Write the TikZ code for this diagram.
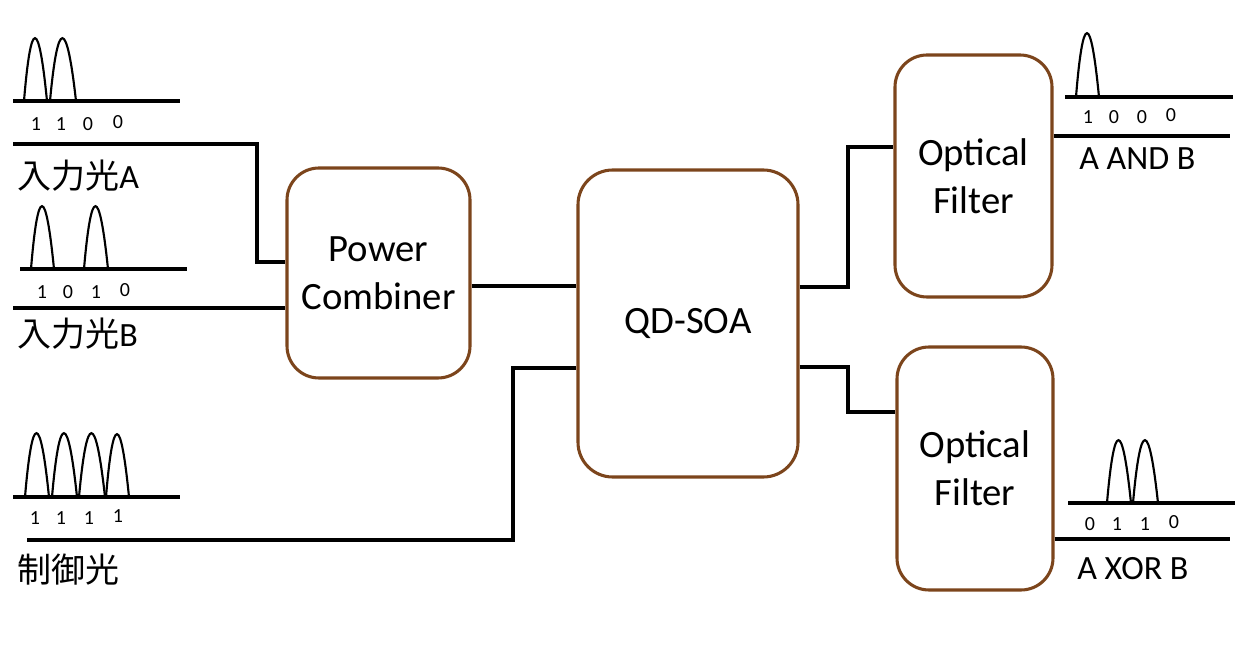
\documentclass[tikz,border=0pt]{standalone}
\usepackage{fontspec}
\setmainfont{Carlito}
\newfontfamily\cjk{Noto Sans CJK JP}
\definecolor{boxbrown}{RGB}{124,69,28}
\tikzset{
  blk/.style={draw=boxbrown, line width=2.3pt, rounded corners=24pt, fill=white,
    inner sep=0pt, align=center, font=\fontsize{29}{36}\selectfont},
  wire/.style={line width=2.5pt, black},
  pulseline/.style={line width=1.6pt, black},
  bit/.style={font=\fontsize{15}{17}\selectfont, inner sep=0pt},
  lbl/.style={font=\fontsize{25.5}{28}\selectfont, inner sep=0pt, anchor=base west},
}
\newcommand\pulsedraw[4]{% x-start, x-end, baseline, peak
  \draw[pulseline] (#1,#3) .. controls ({#1+(#2-#1)*0.30},{#3+(#4-#3)*1.33}) and ({#2-(#2-#1)*0.36},{#3+(#4-#3)*1.33}) .. (#2,#3);}
\begin{document}
\begin{tikzpicture}[x=0.75pt,y=-0.75pt]
\useasboundingbox (0,0) rectangle (1258,670);

% blocks
\node[blk, minimum width=183*0.75pt, minimum height=210*0.75pt] (pc) at (378.5,273) {Power\\Combiner};
\node[blk, minimum width=220*0.75pt, minimum height=307*0.75pt, rounded corners=26pt] (soa) at (688,323.5) {QD-SOA};
\node[blk, minimum width=157*0.75pt, minimum height=242*0.75pt] (f1) at (973.5,176) {Optical\\Filter};
\node[blk, minimum width=156*0.75pt, minimum height=243*0.75pt] (f2) at (975,468.5) {Optical\\Filter};

% free ends
\coordinate (inA) at (13,144);
\coordinate (inB) at (13,308);
\coordinate (inC) at (27,540);
\coordinate (outA) at (1230,136);
\coordinate (outX) at (1230,539);

% wires
\draw[wire] (inA) -- (257,144) -- (257,262) -- (257,262 -| pc.west);
\draw[wire] (inB) -- (inB -| pc.west);
\draw[wire] (inC) -- (513,540) -- (513,368) -- (513,368 -| soa.west);
\draw[wire] (pc.east |- 0,286) -- (soa.west |- 0,286);
\draw[wire] (soa.east |- 0,287) -- (848,287) -- (848,147) -- (848,147 -| f1.west);
\draw[wire] (soa.east |- 0,367) -- (848,367) -- (848,412) -- (848,412 -| f2.west);
\draw[wire] (f1.east |- outA) -- (outA);
\draw[wire] (f2.east |- outX) -- (outX);

% pulse trains: input A
\draw[wire] (13,101) -- (180,101);
\pulsedraw{24}{47}{101}{38}
\pulsedraw{50}{76}{101}{38}
\node[bit] at (36,124) {1};
\node[bit] at (61,124) {1};
\node[bit] at (88,124) {0};
\node[bit] at (118,122) {0};
\node[lbl] (lA) at (17,189) {{\cjk 入力光}A};

% input B
\draw[wire] (20,269) -- (187,269);
\pulsedraw{31}{54}{269}{206}
\pulsedraw{84}{108}{269}{206}
\node[bit] at (42,292) {1};
\node[bit] at (68,292) {0};
\node[bit] at (96,292) {1};
\node[bit] at (125,290) {0};
\node[lbl] (lB) at (17,347) {{\cjk 入力光}B};

% control
\draw[wire] (13,497) -- (180,497);
\pulsedraw{25}{49}{497}{433}
\pulsedraw{52}{77}{497}{433}
\pulsedraw{79}{105}{497}{433}
\pulsedraw{106}{129}{497}{434}
\node[bit] at (35,518) {1};
\node[bit] at (61,518) {1};
\node[bit] at (89,518) {1};
\node[bit] at (118,516) {1};
\node[lbl] (lC) at (17,582) {\cjk 制御光};

% output AND
\draw[wire] (1065,97) -- (1233,97);
\pulsedraw{1076}{1099}{97}{33}
\node[bit] at (1088,117) {1};
\node[bit] at (1114,117) {0};
\node[bit] at (1142,117) {0};
\node[bit] at (1171,115) {0};
\node[lbl] (lAND) at (1079,170) {A AND B};

% output XOR
\draw[wire] (1068,503) -- (1235,503);
\pulsedraw{1107}{1131}{503}{440}
\pulsedraw{1133}{1158}{503}{440}
\node[bit] at (1090,524) {0};
\node[bit] at (1117,524) {1};
\node[bit] at (1145,524) {1};
\node[bit] at (1174,522) {0};
\node[lbl] (lXOR) at (1077,579) {A XOR B};
\end{tikzpicture}
\end{document}
